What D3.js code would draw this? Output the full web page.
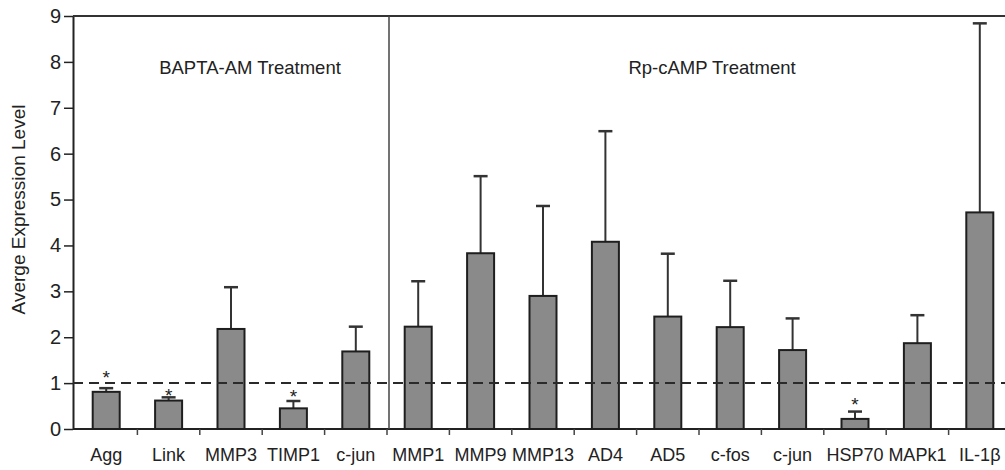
<!DOCTYPE html>
<html>
<head>
<meta charset="utf-8">
<script src="https://cdn.jsdelivr.net/npm/d3@7"></script>
<style>
  body { margin: 0; background: #fff; }
  text { font-family: "Liberation Sans", Arial, sans-serif; fill: #222; }
</style>
</head>
<body>
<div id="main"></div>
<script>
const ctx = {
    w: 1005,
    h: 470,
    X0: 75,
    BAND: 62.4,
    Y_TOP: 16,
    Y_BOT: 429,
    BAR_W: 27,
    CAP_W: 14,
    STROKE_W: 2
};

// gene labels along the x axis (two treatment groups)
const genes = ["Agg", "Link", "MMP3", "TIMP1", "c-jun",
               "MMP1", "MMP9", "MMP13", "AD4", "AD5", "c-fos", "c-jun", "HSP70", "MAPk1", "IL-1\u03b2"];
// mean expression level
const means = [0.81, 0.62, 2.18, 0.45, 1.69,
               2.23, 3.83, 2.90, 4.08, 2.45, 2.22, 1.72, 0.22, 1.87, 4.72];
// top of the error bar
const upper = [0.89, 0.69, 3.09, 0.61, 2.23,
               3.22, 5.51, 4.86, 6.49, 3.82, 3.23, 2.41, 0.38, 2.48, 8.84];
// significance stars: bar index and star height
const starIdx = [0, 1, 3, 12];
const starVal = [1.22, 0.83, 0.81, 0.63];
const groups = ["BAPTA-AM Treatment", "Rp-cAMP Treatment"];
const groupSize = [5, 10];
const yTicks = [0, 1, 2, 3, 4, 5, 6, 7, 8, 9];
const baseline = 1;

function createViz(){
    let svgEl = d3.select("#main").append("svg")
        .attr("width", ctx.w)
        .attr("height", ctx.h);
    let rootG = svgEl.append("g").attr("id", "rootG");

    let idx = d3.range(genes.length);
    ctx.xScale = d3.scaleBand()
        .domain(idx)
        .range([ctx.X0, ctx.X0 + ctx.BAND * genes.length]);
    ctx.yScale = d3.scaleLinear()
        .domain([0, 9])
        .range([ctx.Y_BOT, ctx.Y_TOP]);

    drawAxes(rootG, idx);
    drawBars(rootG, idx);
    drawLabels(rootG);
}

function drawAxes(rootG, idx){
    let x0 = ctx.X0 - 2;
    // y axis
    let yAx = rootG.append("g")
        .attr("transform", `translate(${x0},0)`)
        .call(d3.axisLeft(ctx.yScale).tickValues(yTicks).tickSize(9).tickPadding(3).tickSizeOuter(0));
    yAx.select(".domain").attr("stroke", "#222").attr("stroke-width", ctx.STROKE_W);
    yAx.selectAll(".tick line").attr("stroke", "#222").attr("stroke-width", 1.5);
    yAx.selectAll("text").style("font-size", "20px").attr("fill", "#222");

    // x axis line + ticks between the categories
    rootG.append("line")
        .attr("x1", x0).attr("x2", ctx.w)
        .attr("y1", ctx.Y_BOT).attr("y2", ctx.Y_BOT)
        .attr("stroke", "#222").attr("stroke-width", ctx.STROKE_W);
    rootG.selectAll(".xtick")
        .data(idx.slice(1))
        .enter()
        .append("line")
        .attr("class", "xtick")
        .attr("x1", (d) => ctx.xScale(d)).attr("x2", (d) => ctx.xScale(d))
        .attr("y1", ctx.Y_BOT).attr("y2", ctx.Y_BOT + 6)
        .attr("stroke", "#444").attr("stroke-width", 1.5);
    rootG.selectAll(".xlab")
        .data(idx)
        .enter()
        .append("text")
        .attr("class", "xlab")
        .attr("x", (d) => ctx.xScale(d) + ctx.xScale.bandwidth() / 2)
        .attr("y", 461)
        .style("text-anchor", "middle")
        .style("font-size", "18px")
        .text((d) => genes[d]);

    // top frame line
    rootG.append("line")
        .attr("x1", x0).attr("x2", ctx.w)
        .attr("y1", ctx.Y_TOP).attr("y2", ctx.Y_TOP)
        .attr("stroke", "#333").attr("stroke-width", ctx.STROKE_W);

    // divider between the two treatments
    let xDiv = ctx.xScale(groupSize[0]) + 2;
    rootG.append("line")
        .attr("x1", xDiv).attr("x2", xDiv)
        .attr("y1", ctx.Y_TOP).attr("y2", ctx.Y_BOT)
        .attr("stroke", "#444").attr("stroke-width", 1.5);

    rootG.append("text")
        .attr("transform", `translate(25,${(ctx.Y_TOP + ctx.Y_BOT) / 2 - 13}) rotate(-90)`)
        .style("text-anchor", "middle")
        .style("font-size", "19px")
        .text("Averge Expression Level");
}

function drawBars(rootG, idx){
    let bw = ctx.BAR_W;
    let cx = (d) => ctx.xScale(d) + ctx.xScale.bandwidth() / 2;

    // error bars (upper only)
    rootG.selectAll(".err")
        .data(idx)
        .enter()
        .append("line")
        .attr("class", "err")
        .attr("x1", cx).attr("x2", cx)
        .attr("y1", (d) => ctx.yScale(means[d]))
        .attr("y2", (d) => ctx.yScale(upper[d]))
        .attr("stroke", "#333").attr("stroke-width", ctx.STROKE_W);
    rootG.selectAll(".cap")
        .data(idx)
        .enter()
        .append("line")
        .attr("class", "cap")
        .attr("x1", (d) => cx(d) - ctx.CAP_W / 2).attr("x2", (d) => cx(d) + ctx.CAP_W / 2)
        .attr("y1", (d) => ctx.yScale(upper[d]))
        .attr("y2", (d) => ctx.yScale(upper[d]))
        .attr("stroke", "#333").attr("stroke-width", 2.5);

    rootG.selectAll(".bar")
        .data(idx)
        .enter()
        .append("rect")
        .attr("class", "bar")
        .attr("x", (d) => cx(d) - bw / 2)
        .attr("y", (d) => ctx.yScale(means[d]))
        .attr("width", bw)
        .attr("height", (d) => ctx.Y_BOT - ctx.yScale(means[d]))
        .attr("fill", "#8a8a8a")
        .attr("stroke", "#1e1e1e")
        .attr("stroke-width", ctx.STROKE_W);

    // dashed reference line at 1
    rootG.append("line")
        .attr("x1", ctx.X0 - 2).attr("x2", ctx.w)
        .attr("y1", ctx.yScale(baseline)).attr("y2", ctx.yScale(baseline))
        .attr("stroke", "#2a2a2a").attr("stroke-width", 2)
        .attr("stroke-dasharray", "10,6");

    rootG.selectAll(".star")
        .data(starIdx)
        .enter()
        .append("text")
        .attr("class", "star")
        .attr("x", cx)
        .attr("y", (d, i) => ctx.yScale(starVal[i]) + 11)
        .style("text-anchor", "middle")
        .style("font-size", "19px")
        .text("*");
}

function drawLabels(rootG){
    let xs = [ctx.xScale(0) + ctx.BAND * groupSize[0] / 2 + 19,
              ctx.xScale(groupSize[0]) + ctx.BAND * groupSize[1] / 2 + 13];
    rootG.selectAll(".grp")
        .data(groups)
        .enter()
        .append("text")
        .attr("class", "grp")
        .attr("x", (d, i) => xs[i])
        .attr("y", 74)
        .style("text-anchor", "middle")
        .style("font-size", "18.5px")
        .text((d) => d);
}

createViz();
</script>
</body>
</html>
